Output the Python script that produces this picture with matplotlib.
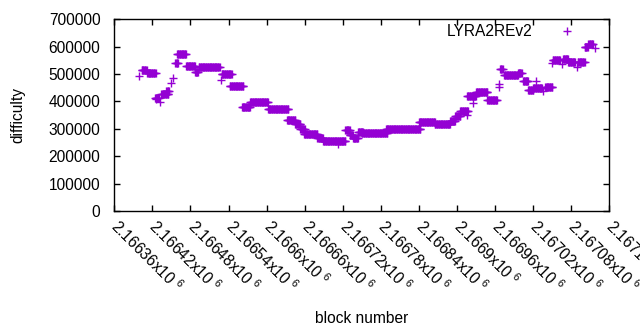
import matplotlib
matplotlib.use("Agg")
import matplotlib.pyplot as plt
import matplotlib.transforms as mtransforms
import numpy as np

plt.rcParams['font.family'] = ['Liberation Sans', 'DejaVu Sans']
plt.rcParams['font.size'] = 11.2
plt.rcParams['mathtext.fontset'] = 'custom'
plt.rcParams['mathtext.rm'] = 'Liberation Sans'

# difficulty held constant over runs of blocks: (first block, last block, value)
run_start = [2166403, 2166412, 2166424, 2166434, 2166442, 2166456, 2166459,
             2166473, 2166487, 2166493, 2166529, 2166542, 2166561, 2166574,
             2166602, 2166632, 2166645, 2166653, 2166659, 2166680, 2166689,
             2166724, 2166731, 2166736, 2166744, 2166750, 2166788, 2166840,
             2166865, 2166889, 2166897, 2166905, 2166916, 2166930, 2166948,
             2166968, 2166974, 2166996, 2167004, 2167012, 2167020, 2167039,
             2167051, 2167067, 2167075, 2167090, 2167101, 2167107]
run_end = [2166411, 2166425, 2166430, 2166445, 2166446, 2166460, 2166473,
           2166487, 2166492, 2166526, 2166545, 2166563, 2166574, 2166602,
           2166634, 2166645, 2166653, 2166660, 2166680, 2166689, 2166724,
           2166731, 2166736, 2166744, 2166752, 2166790, 2166842, 2166865,
           2166889, 2166897, 2166905, 2166917, 2166930, 2166948, 2166963,
           2166972, 2166996, 2167002, 2167012, 2167020, 2167034, 2167050,
           2167062, 2167075, 2167086, 2167101, 2167106, 2167114]
run_value = [514000, 505000, 414000, 428000, 437000, 540000, 573000,
             529000, 507000, 527000, 500000, 456000, 378000, 398000,
             374000, 334000, 318000, 299000, 281000, 268000, 256000,
             296000, 277000, 266000, 289000, 284000, 299000, 325000,
             317000, 329000, 347000, 366000, 420000, 433000, 404000,
             518000, 495000, 504000, 475000, 442000, 450000, 453000,
             551000, 556000, 544000, 545000, 600000, 608000]

# single outlying blocks
odd_block = [2166399, 2166426, 2166432, 2166449, 2166452, 2166528, 2166712,
             2166915, 2166925, 2166966, 2166966, 2167025, 2167036, 2167050,
             2167065, 2167089, 2167117]
odd_value = [492000, 409000, 399000, 466000, 484000, 478000, 245000,
             350000, 394000, 453000, 464000, 476000, 439000, 540000,
             537000, 527000, 595000]

tick_pos = np.arange(2166360, 2167141, 60)
tick_text = ['2.16636', '2.16642', '2.16648', '2.16654', '2.1666', '2.16666',
             '2.16672', '2.16678', '2.16684', '2.1669', '2.16696', '2.16702',
             '2.16708', '2.16714']

blocks = []
values = []
for s, e, v in zip(run_start, run_end, run_value):
    for b in range(s, e + 1):
        blocks.append(b)
        values.append(v)
blocks += odd_block
values += odd_value

fig = plt.figure(figsize=(6.4, 3.3), dpi=100)
ax = fig.add_axes([0.1786, 0.3606, 0.7735, 0.5809])

ax.plot(blocks, values, linestyle='none', marker='+', markersize=5.5,
        markeredgewidth=1.0, color='#9400D3', label='LYRA2REv2')

ax.set_xlim(2166360, 2167140)
ax.set_ylim(0, 700000)
ax.set_yticks(np.arange(0, 700001, 100000))
ax.set_xticks(tick_pos)
ax.set_xticklabels([t + r'x10 $^{6}$' for t in tick_text], rotation=-45,
                   ha='left', va='center', rotation_mode='anchor')
shift = mtransforms.ScaledTranslation(4 / 100, 0, fig.dpi_scale_trans)
for lab in ax.get_xticklabels():
    lab.set_transform(lab.get_transform() + shift)

ax.tick_params(direction='in', length=4, width=1, top=True, right=True,
               colors='black')
ax.tick_params(axis='x', pad=9)
ax.tick_params(axis='y', pad=10)
for sp in ax.spines.values():
    sp.set_linewidth(1)

ax.set_xlabel('block number', labelpad=11)
ax.set_ylabel('difficulty', labelpad=17)

ax.legend(loc='upper right', bbox_to_anchor=(0.955, 1.0), frameon=False,
          markerfirst=False, handlelength=2.0, handletextpad=1.18,
          borderaxespad=0.0, borderpad=0.3)

fig.savefig('out.png', dpi=100)
